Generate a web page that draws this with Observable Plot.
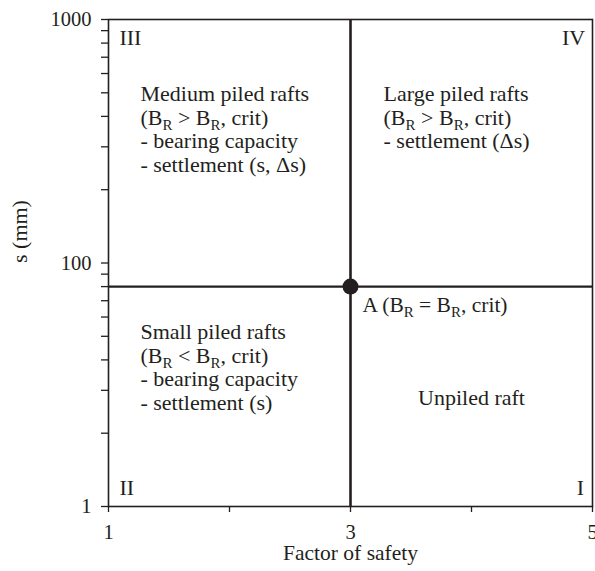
<!DOCTYPE html>
<html>
<head>
<meta charset="utf-8">
<script src="https://cdn.jsdelivr.net/npm/d3@7"></script>
<script src="https://cdn.jsdelivr.net/npm/@observablehq/plot@0.6"></script>
<style>
  html, body { margin: 0; padding: 0; background: white; }
  #chart { width: 595px; height: 571px; overflow: hidden; }
  #chart svg, #chart svg text, #chart svg tspan { font-family: "Liberation Serif", serif !important; }
</style>
</head>
<body>
<div id="chart"></div>
<script>
// Axis ticks: factor of safety (x) and settlement s in mm (y, log scale)
const xTicks = [1, 2, 3, 4, 5];
const xTickLabels = ["1", "", "3", "", "5"];
const yTicks = [10, 20, 30, 40, 50, 60, 70, 80, 90, 100, 200, 300, 400, 500, 600, 700, 800, 900, 1000];
const yMajorTicks = [10, 100, 1000];
const yMajorLabels = ["1", "100", "1000"];

// Critical point A separating the four design regions
const critFS = [3];
const critS = [80];

// Region annotations, placed in data coordinates
const noteText = [
  "III",
  "IV",
  "II",
  "I",
  "Medium piled rafts\n(B_R > B_R, crit)\n- bearing capacity\n- settlement (s, Δs)",
  "Large piled rafts\n(B_R > B_R, crit)\n- settlement (Δs)",
  "Small piled rafts\n(B_R < B_R, crit)\n- bearing capacity\n- settlement (s)",
  "Unpiled raft"
];
const noteX = [1.09, 4.94, 1.09, 4.93, 1.264, 3.273, 1.264, 4.0];
const noteY = [844, 844, 12, 12, 540, 540, 57, 28];
const noteAlign = ["start", "end", "start", "end", "start", "start", "start", "middle"];
const noteLine = ["middle", "middle", "middle", "middle", "top", "top", "top", "middle"];

const pointLabel = ["A (B_R = B_R, crit)"];

const ink = "#231f20";
const notes = noteText.map((text, i) => ({text, x: noteX[i], y: noteY[i]}));
const point = critFS.map((fs, i) => ({x: fs, y: critS[i], label: pointLabel[i]}));

const chart = Plot.plot({
  width: 595,
  height: 571,
  marginLeft: 108,
  marginRight: 3,
  marginTop: 19,
  marginBottom: 65,
  style: {
    fontFamily: "Liberation Serif",
    fontSize: "22px",
    color: ink,
    background: "white",
    overflow: "visible"
  },
  x: {domain: [1, 5]},
  y: {type: "log", domain: [10, 1000]},
  marks: [
    Plot.axisX({
      ticks: xTicks,
      tickFormat: (d) => xTickLabels[xTicks.indexOf(d)],
      tickSize: 6,
      tickPadding: 12,
      strokeWidth: 1.3,
      fontSize: 20.5,
      label: null
    }),
    Plot.axisY({
      ticks: yTicks,
      tickFormat: (d) => {
        const i = yMajorTicks.indexOf(d);
        return i < 0 ? "" : yMajorLabels[i];
      },
      tickSize: 7,
      tickPadding: 10,
      strokeWidth: 1.3,
      fontSize: 20.5,
      label: null
    }),
    Plot.frame({strokeWidth: 1.6}),
    Plot.ruleX(critFS, {strokeWidth: 2.6}),
    Plot.ruleY(critS, {strokeWidth: 2.2}),
    Plot.dot(point, {x: "x", y: "y", r: 8, fill: "currentColor", stroke: null}),
    Plot.text(point, {x: "x", y: "y", text: "label", textAnchor: "start", dx: 12, dy: 19, fontSize: 21.5}),
    ...notes.map((n, i) => Plot.text([n], {
      x: "x", y: "y", text: "text",
      textAnchor: noteAlign[i],
      lineAnchor: noteLine[i],
      lineHeight: 1.07
    })),
    Plot.text(["Factor of safety"], {frameAnchor: "bottom", dy: 53, fontSize: 21.5}),
    Plot.text(["s (mm)"], {frameAnchor: "left", dx: -89, rotate: -90})
  ]
});

// Render "B_R" as B with a subscript R
const svgNS = "http://www.w3.org/2000/svg";
const walker = document.createTreeWalker(chart, NodeFilter.SHOW_TEXT);
const targets = [];
while (walker.nextNode()) {
  if (walker.currentNode.nodeValue.includes("_R")) targets.push(walker.currentNode);
}
for (const node of targets) {
  const parts = node.nodeValue.split("_R");
  const frag = document.createDocumentFragment();
  parts.forEach((part, i) => {
    if (i === 0) {
      frag.appendChild(document.createTextNode(part));
    } else {
      const sub = document.createElementNS(svgNS, "tspan");
      sub.setAttribute("dy", "5");
      sub.setAttribute("font-size", "15px");
      sub.textContent = "R";
      frag.appendChild(sub);
      const rest = document.createElementNS(svgNS, "tspan");
      rest.setAttribute("dy", "-5");
      rest.textContent = part;
      frag.appendChild(rest);
    }
  });
  node.parentNode.replaceChild(frag, node);
}

document.getElementById("chart").appendChild(chart);
</script>
</body>
</html>
